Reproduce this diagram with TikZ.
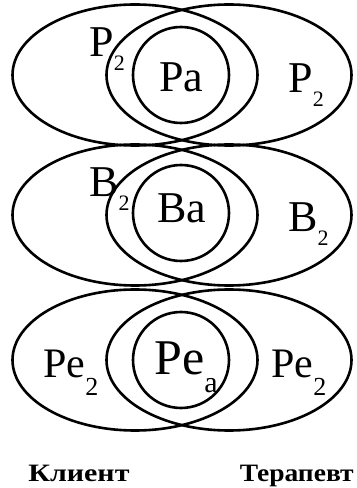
\documentclass[tikz,border=0pt]{standalone}
\usepackage{fontspec}
\setmainfont{Liberation Serif}
\usetikzlibrary{shapes.geometric}
\newcommand{\lowidx}[3]{\raisebox{#2}{\fontsize{#1}{#1}\selectfont #3}}

\begin{document}
\begin{tikzpicture}[x=0.5pt, y=0.5pt, line width=1.3pt,
    lobe/.style={draw, ellipse, minimum width=122.5pt, minimum height=70.5pt, inner sep=0pt},
    core/.style={draw, circle, minimum size=48pt, inner sep=0pt},
    tag/.style={anchor=base west, inner sep=0pt, font=\fontsize{22}{24}\selectfont},
    side/.style={inner sep=0pt, font=\fontsize{12.5}{14}\selectfont\bfseries}]
    \useasboundingbox (0,0) rectangle (357,488);

    % ряд P
    \node[lobe] (pL) at (135,413) {};
    \node[lobe] (pR) at (229,413) {};
    \node[core] (pa) at (181,413) {};
    \node[tag] (paTag) at (158,396) {Pa};
    \node[tag] (pLtag) at (88,431) {P\lowidx{11}{-7pt}{2}};
    \node[tag] (pRtag) at (287,395) {P\lowidx{11}{-7pt}{2}};

    % ряд B
    \node[lobe] (bL) at (135,273) {};
    \node[lobe] (bR) at (229,273) {};
    \node[core] (ba) at (181,275) {};
    \node[tag] (baTag) at (156,265) {Ba};
    \node[tag] (bLtag) at (88,291) {B\lowidx{11}{-7pt}{2}};
    \node[tag] (bRtag) at (287,256) {B\lowidx{11}{-7pt}{2}};

    % ряд Pe
    \node[lobe] (peL) at (135,128) {};
    \node[lobe] (peR) at (229,128) {};
    \node[core] (pea) at (181,128) {};
    \node[tag, font=\fontsize{25}{27}\selectfont] (peaTag) at (153,113) {Pe\lowidx{15}{-9pt}{a}};
    \node[tag, font=\fontsize{21}{23}\selectfont] (peLtag) at (42,111) {Pe\lowidx{13}{-9pt}{2}};
    \node[tag, font=\fontsize{21}{23}\selectfont] (peRtag) at (270,111) {Pe\lowidx{13}{-9pt}{2}};

    \node[side, anchor=base west] (client) at (27,6) {\scalebox{1.2}[1]{Клиент}};
    \node[side, anchor=base east] (therapist) at (355,6) {\scalebox{1.1}[1]{Терапевт}};
\end{tikzpicture}
\end{document}
